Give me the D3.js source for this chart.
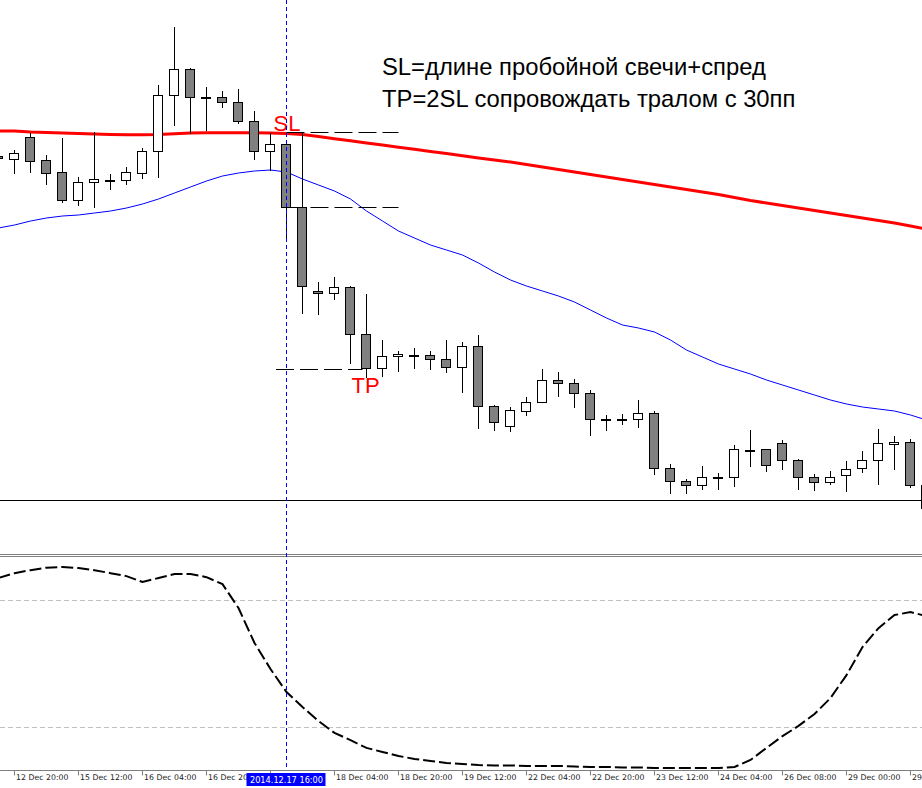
<!DOCTYPE html>
<html><head><meta charset="utf-8">
<script src="https://cdn.jsdelivr.net/npm/d3@7"></script>
<style>html,body{margin:0;padding:0;background:#fff;overflow:hidden}</style>
</head><body><svg id="c" width="922" height="788"></svg>
<script>
// ---- DATA (H4 candles) ----
const categories = [
"2014-12-12 16:00","2014-12-12 20:00","2014-12-15 00:00","2014-12-15 04:00","2014-12-15 08:00","2014-12-15 12:00",
"2014-12-15 16:00","2014-12-15 20:00","2014-12-16 00:00","2014-12-16 04:00","2014-12-16 08:00","2014-12-16 12:00",
"2014-12-16 16:00","2014-12-16 20:00","2014-12-17 00:00","2014-12-17 04:00","2014-12-17 08:00","2014-12-17 12:00",
"2014-12-17 16:00","2014-12-17 20:00","2014-12-18 00:00","2014-12-18 04:00","2014-12-18 08:00","2014-12-18 12:00",
"2014-12-18 16:00","2014-12-18 20:00","2014-12-19 00:00","2014-12-19 04:00","2014-12-19 08:00","2014-12-19 12:00",
"2014-12-19 16:00","2014-12-19 20:00","2014-12-22 00:00","2014-12-22 04:00","2014-12-22 08:00","2014-12-22 12:00",
"2014-12-22 16:00","2014-12-22 20:00","2014-12-23 00:00","2014-12-23 04:00","2014-12-23 08:00","2014-12-23 12:00",
"2014-12-23 16:00","2014-12-23 20:00","2014-12-24 00:00","2014-12-24 04:00","2014-12-24 08:00","2014-12-24 12:00",
"2014-12-26 04:00","2014-12-26 08:00","2014-12-26 12:00","2014-12-26 16:00","2014-12-26 20:00","2014-12-29 00:00",
"2014-12-29 04:00","2014-12-29 08:00","2014-12-29 12:00","2014-12-29 16:00","2014-12-29 20:00"];

const openP  = [1.2444,1.2441,1.2463,1.2440,1.2428,1.2400,1.2418,1.2420,1.2420,1.2427,1.2449,1.2505,1.2531,1.2503,1.2503,1.2498,1.2479,1.2449,
1.2456,1.2393,1.2309,1.2307,1.2313,1.2266,1.2232,1.2244,1.2245,1.2245,1.2241,1.2233,1.2254,1.2194,1.2174,1.2189,1.2198,1.2220,1.2217,1.2207,
1.2181,1.2181,1.2181,1.2187,1.2132,1.2119,1.2115,1.2123,1.2123,1.2150,1.2151,1.2157,1.2140,1.2123,1.2118,1.2125,1.2132,1.2140,1.2156,1.2158,1.2115];
const highP  = [1.2446,1.2450,1.2467,1.2445,1.2462,1.2423,1.2468,1.2426,1.2433,1.2452,1.2515,1.2573,1.2532,1.2513,1.2509,1.2511,1.2489,1.2467,
1.2460,1.2467,1.2318,1.2323,1.2314,1.2306,1.2260,1.2249,1.2252,1.2249,1.2260,1.2258,1.2265,1.2195,1.2193,1.2203,1.2231,1.2228,1.2221,1.2210,
1.2185,1.2186,1.2200,1.2189,1.2136,1.2121,1.2134,1.2127,1.2155,1.2170,1.2151,1.2160,1.2141,1.2126,1.2129,1.2139,1.2149,1.2171,1.2164,1.2161,1.2115];
const lowP   = [1.2440,1.2427,1.2428,1.2416,1.2398,1.2395,1.2393,1.2411,1.2416,1.2422,1.2423,1.2475,1.2467,1.2470,1.2493,1.2477,1.2441,1.2430,
1.2363,1.2287,1.2286,1.2301,1.2237,1.2223,1.2224,1.2229,1.2232,1.2231,1.2228,1.2208,1.2172,1.2170,1.2169,1.2185,1.2198,1.2204,1.2193,1.2165,
1.2170,1.2176,1.2173,1.2126,1.2107,1.2107,1.2111,1.2111,1.2114,1.2134,1.2129,1.2131,1.2111,1.2110,1.2116,1.2109,1.2128,1.2116,1.2131,1.2113,1.2090];
const closeP = [1.2442,1.2447,1.2439,1.2427,1.2400,1.2418,1.2421,1.2420,1.2428,1.2449,1.2505,1.2531,1.2503,1.2503,1.2498,1.2479,1.2449,1.2456,
1.2393,1.2314,1.2307,1.2313,1.2266,1.2232,1.2244,1.2246,1.2245,1.2241,1.2233,1.2254,1.2194,1.2178,1.2190,1.2198,1.2220,1.2217,1.2207,1.2181,
1.2181,1.2181,1.2187,1.2132,1.2119,1.2115,1.2123,1.2123,1.2151,1.2150,1.2135,1.2140,1.2123,1.2118,1.2123,1.2131,1.2140,1.2157,1.2158,1.2115,1.2092];

const maSlow = [1.2469,1.2469,1.2468,1.24675,1.2467,1.24665,1.2466,1.24655,1.24653,1.24653,1.24655,1.24663,1.2467,1.24673,1.24673,1.24673,1.24673,1.2467,
1.24665,1.24655,1.24635,1.24613,1.24592,1.2457,1.2455,1.24528,1.24507,1.24485,1.24465,1.24443,1.2442,1.2440,1.2438,1.24355,1.2433,1.24305,1.2428,
1.24255,1.2423,1.24205,1.2418,1.24155,1.2413,1.24105,1.2408,1.24055,1.24025,1.23995,1.2397,1.23945,1.2392,1.23895,1.2387,1.23845,1.2382,1.23795,
1.2377,1.2374,1.2371];
const maFast = [1.2372,1.2375,1.2379,1.2382,1.2384,1.2385,1.2387,1.2389,1.2392,1.2396,1.2401,1.2407,1.2413,1.2419,1.2424,1.2427,1.2429,1.2430,
1.2428,1.2421,1.2415,1.2409,1.2401,1.2389,1.2379,1.2369,1.2362,1.2355,1.2350,1.2345,1.2337,1.2328,1.2320,1.2314,1.2309,1.2304,1.2298,1.2290,
1.2282,1.2275,1.2272,1.2268,1.2260,1.2250,1.2243,1.2236,1.2231,1.2226,1.2220,1.2215,1.2210,1.2205,1.2200,1.2196,1.2193,1.2191,1.2189,1.2185,1.2180];

const stoch = [90.4,92.7,94.1,95.3,95.6,95.1,94.1,92.7,91.3,88.5,90.4,92.3,92.3,90.8,87.5,76.2,59.7,47.4,36.5,29.4,22.8,17.2,13.8,10.1,8.2,
6.3,4.9,3.9,3.0,2.5,2.0,1.8,1.8,1.6,1.6,1.6,1.3,1.1,1.1,0.9,0.9,0.6,0.6,0.6,0.6,0.6,1.1,4.4,10.1,15.7,20.5,26.1,33.7,44.5,57.8,66.7,72.9,74.3,72.4];
const stochLevels = [80, 20];

const hLine = 1.2100;
const slHigh = 1.2468, slLow = 1.2393, tpLevel = 1.2231;
const breakoutBar = "2014-12-17 16:00";
const noteLines = ["SL=длине пробойной свечи+спред", "TP=2SL сопровождать тралом с 30пп"];

// ---- SCALES ----
const W = 922;
const svg = d3.select("#c");
const x = d3.scalePoint().domain(categories).range([-1.5, 926.5]);
const y = d3.scaleLinear().domain([1.2049, 1.2600]).range([551, 0]);
const ys = d3.scaleLinear().domain([0, 100]).range([769.3, 557.7]);
const parse = d3.timeParse("%Y-%m-%d %H:%M");
const fmtTick = d3.timeFormat("%d %b %H:%M");
const fmtHi = d3.timeFormat("%Y.%m.%d %H:%M");
const px = v => Math.round(v) + 0.5;

const defs = svg.append("defs");
defs.append("clipPath").attr("id","cm").append("rect").attr("x",0).attr("y",0).attr("width",W).attr("height",553);
defs.append("clipPath").attr("id","cs").append("rect").attr("x",0).attr("y",557).attr("width",W).attr("height",212);

// ---- MAIN PANEL ----
const gm = svg.append("g").attr("clip-path","url(#cm)");

gm.append("line").attr("x1",0).attr("x2",W).attr("y1",px(y(hLine))).attr("y2",px(y(hLine)))
  .attr("stroke","#000").attr("stroke-width",1);

gm.append("path").datum(maSlow).attr("fill","none").attr("stroke","#ff0000").attr("stroke-width",3)
  .attr("d", d3.line().x((d,i)=>x(categories[i])).y(d=>y(d)));
gm.append("path").datum(maFast).attr("fill","none").attr("stroke","#0000ff").attr("stroke-width",1)
  .attr("d", d3.line().x((d,i)=>x(categories[i])).y(d=>y(d)));

const bars = categories.map((c,i)=>({c, o:openP[i], h:highP[i], l:lowP[i], cl:closeP[i]}));
const cg = gm.append("g");
cg.selectAll("line.w").data(bars).join("line").attr("class","w")
  .attr("x1",d=>x(d.c)).attr("x2",d=>x(d.c))
  .attr("y1",d=>Math.round(y(d.h))).attr("y2",d=>Math.round(y(d.l))+1)
  .attr("stroke","#000").attr("stroke-width",1);
cg.selectAll("rect").data(bars).join("rect")
  .attr("x",d=>x(d.c)-5).attr("width",9)
  .attr("y",d=>px(y(Math.max(d.o,d.cl))))
  .attr("height",d=>Math.max(1, Math.round(y(Math.min(d.o,d.cl))) - Math.round(y(Math.max(d.o,d.cl)))))
  .attr("fill",d=>d.cl>=d.o ? "#fff" : "#808080")
  .attr("stroke","#000").attr("stroke-width",1);

const bi = categories.indexOf(breakoutBar);
const dashLine = (x1,x2,yy)=>gm.append("line").attr("x1",x1).attr("x2",x2).attr("y1",px(y(yy))).attr("y2",px(y(yy)))
  .attr("stroke","#000").attr("stroke-width",1).attr("stroke-dasharray","18,6");
dashLine(x(categories[bi]), x(categories[bi+7]), slHigh);
dashLine(x(categories[bi]), x(categories[bi+7]), slLow);
dashLine(x(categories[bi-1])+5.5, x(categories[bi+5])-4, tpLevel);

gm.append("text").attr("x",x(categories[bi])-13).attr("y",y(slHigh)-1)
  .attr("fill","#ff0000").attr("font-family","Liberation Sans, Arial, sans-serif").attr("font-size",22).text("SL");
gm.append("text").attr("x",x(categories[bi+5])-15).attr("y",y(tpLevel)+24)
  .attr("fill","#ff0000").attr("font-family","Liberation Sans, Arial, sans-serif").attr("font-size",22).text("TP");

noteLines.forEach((t,k)=>{
  svg.append("text").attr("x",382).attr("y",75 + k*32).attr("fill","#000")
    .attr("font-family","Liberation Sans, Arial, sans-serif").attr("font-size",23.8).text(t);
});

svg.append("line").attr("x1",0).attr("x2",W).attr("y1",554.5).attr("y2",554.5).attr("stroke","#808080");
svg.append("line").attr("x1",0).attr("x2",W).attr("y1",556.5).attr("y2",556.5).attr("stroke","#808080");

// ---- SUB PANEL ----
const gs = svg.append("g").attr("clip-path","url(#cs)");
gs.selectAll("line.lv").data(stochLevels).join("line").attr("class","lv")
  .attr("x1",0).attr("x2",W).attr("y1",d=>px(ys(d))).attr("y2",d=>px(ys(d)))
  .attr("stroke","#c0c0c0").attr("stroke-width",1).attr("stroke-dasharray","5,3");
gs.append("path").datum(stoch).attr("fill","none").attr("stroke","#000").attr("stroke-width",2)
  .attr("stroke-dasharray","12,4")
  .attr("d", d3.line().x((d,i)=>x(categories[i])).y(d=>ys(d)));

svg.append("line").attr("x1",px(x(breakoutBar))-1).attr("x2",px(x(breakoutBar))-1).attr("y1",0).attr("y2",770)
  .attr("stroke","#0000ff").attr("stroke-width",1).attr("stroke-dasharray","4,3");

// ---- X AXIS ----
const hx = x(breakoutBar);
const tickVals = categories.filter((d,i)=> i>=1 && (i-1)%4===0);
const ax = svg.append("g").attr("transform","translate(0,770.5)")
  .call(d3.axisBottom(x).tickValues(tickVals).tickSizeInner(5).tickSizeOuter(0)
    .tickFormat(d=> Math.abs(x(d)-hx) < 20 ? "" : fmtTick(parse(d))));
ax.select(".domain").attr("stroke","#808080").attr("d","M0,0H"+W);
ax.selectAll(".tick line").attr("stroke","#808080").attr("transform","translate(-0.5,0)");
ax.selectAll(".tick text").attr("text-anchor","start").attr("dx","1").attr("y",4)
  .attr("fill","#222").attr("font-family","DejaVu Sans, Tahoma, sans-serif").attr("font-size",7.8);

svg.append("rect").attr("x",hx-40).attr("y",773).attr("width",79).attr("height",13).attr("fill","#0000ff");
svg.append("text").attr("x",hx).attr("y",783).attr("text-anchor","middle").attr("fill","#fff")
  .attr("font-family","DejaVu Sans, Tahoma, sans-serif").attr("font-size",8.2).text(fmtHi(parse(breakoutBar)));
</script></body></html>
